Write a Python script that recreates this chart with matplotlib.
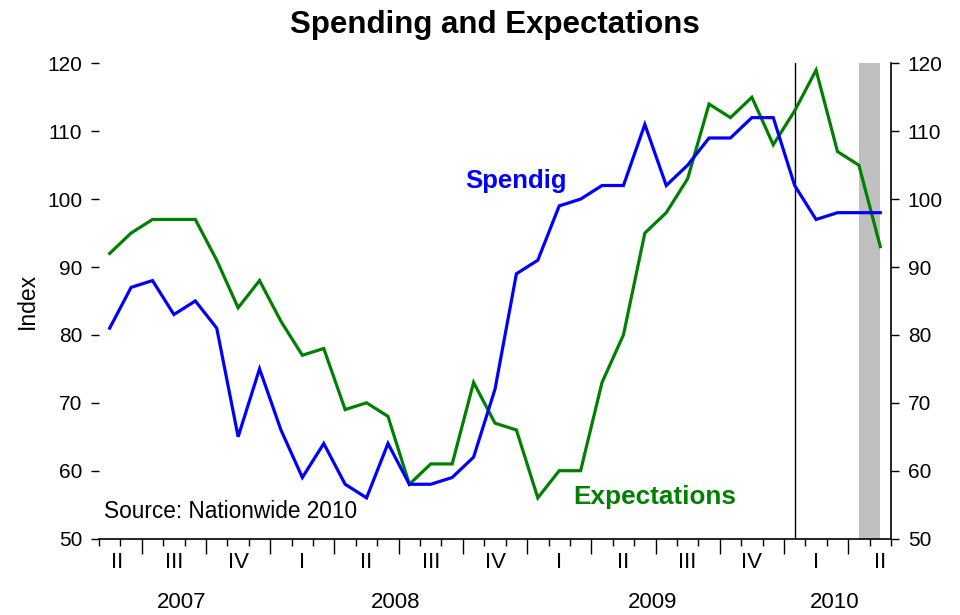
import matplotlib
matplotlib.use("Agg")
import matplotlib.pyplot as plt
import numpy as np

plt.rcParams['font.family'] = ['Liberation Sans', 'DejaVu Sans']

# Monthly data, May 2007 .. May 2010 (37 months)
start_year, start_month = 2007, 5
spending = [81, 87, 88, 83, 85, 81, 65, 75, 66, 59, 64, 58, 56, 64, 58, 58, 59, 62,
            72, 89, 91, 99, 100, 102, 102, 111, 102, 105, 109, 109, 112, 112, 102, 97,
            98, 98, 98]
expectations = [92, 95, 97, 97, 97, 91, 84, 88, 82, 77, 78, 69, 70, 68, 58, 61, 61, 73,
                67, 66, 56, 60, 60, 73, 80, 95, 98, 103, 114, 112, 115, 108, 113, 119,
                107, 105, 93]
quarter_names = ['I', 'II', 'III', 'IV']
years = [2007, 2008, 2009, 2010]
yticks = [50, 60, 70, 80, 90, 100, 110, 120]
vline_month = (2010, 1)
shade_months = [(2010, 4), (2010, 5)]

n = len(spending)
x = np.arange(n)

def midx(y, m):
    return (y - start_year) * 12 + (m - start_month)

fig = plt.figure(figsize=(9.6, 6.15), dpi=100)
ax = fig.add_axes([99/960, 1 - 538.6/615, (891-99)/960, (538.6-63.3)/615])

ax.axvspan(midx(*shade_months[0]), midx(*shade_months[1]), color='#c0c0c0', lw=0, zorder=1)
ax.axvline(midx(*vline_month), color='black', lw=1.0, zorder=2)

ax.plot(x, spending, color='#0000ff', lw=2.3, zorder=4, solid_joinstyle='miter')
ax.plot(x, expectations, color='#008000', lw=2.3, zorder=3, solid_joinstyle='miter')

ax.set_xlim(-0.5, n - 0.5)
ax.set_ylim(50, 120)

for s in ['top', 'left']:
    ax.spines[s].set_visible(False)
ax.spines['right'].set_linewidth(1.2)
ax.spines['bottom'].set_linewidth(1.2)

ax.set_yticks(yticks)
ax.tick_params(axis='y', which='both', direction='out', length=6, width=1.0,
               labelsize=15, left=True, right=True, labelleft=True, labelright=True, pad=6)

# month boundaries (minor), quarter boundaries (major)
bounds = np.arange(-0.5, n, 1.0)
qb = [b for b in bounds if ((start_month - 1 + int(b + 0.5)) % 3 == 0) and -0.5 < b < n - 0.5]
ax.set_xticks(qb)
ax.set_xticks(bounds, minor=True)
ax.tick_params(axis='x', which='major', direction='out', length=11, width=1.0, labelbottom=False)
ax.tick_params(axis='x', which='minor', direction='out', length=5, width=1.0)

xt = ax.get_xaxis_transform()
# quarter labels
for yr in years:
    for q in range(4):
        s = midx(yr, 3 * q + 1)
        c = s + 1
        if s + 2 < -0.5 or s > n - 0.5:
            continue
        c = min(max(c, 0.35), n - 1.0)
        ax.text(c, -0.051, quarter_names[q], transform=xt, ha='center', va='center', fontsize=16)
# year labels
for yr in years:
    a = max(midx(yr, 1) - 0.5, -0.5)
    b = min(midx(yr, 12) + 0.5, n - 0.5)
    ax.text((a + b) / 2 - 0.15, -0.135, str(yr), transform=xt, ha='center', va='center', fontsize=16)

ax.set_ylabel('Index', fontsize=16.5, labelpad=6)

ax.text(16.6, 101.6, 'Spendig', color='#0000ff', fontsize=18.5, fontweight='bold',
        ha='left', va='baseline', zorder=5)
ax.text(21.65, 55.1, 'Expectations', color='#008000', fontsize=18.8, fontweight='bold',
        ha='left', va='baseline', zorder=5)
ax.text(-0.27, 53.1, 'Source: Nationwide 2010', fontsize=16.3, ha='left', va='baseline', zorder=5)

fig.text(495/960, 1 - 25/615, 'Spending and Expectations', ha='center', va='center',
         fontsize=22.5, fontweight='bold')

fig.savefig('out.png', dpi=100)
